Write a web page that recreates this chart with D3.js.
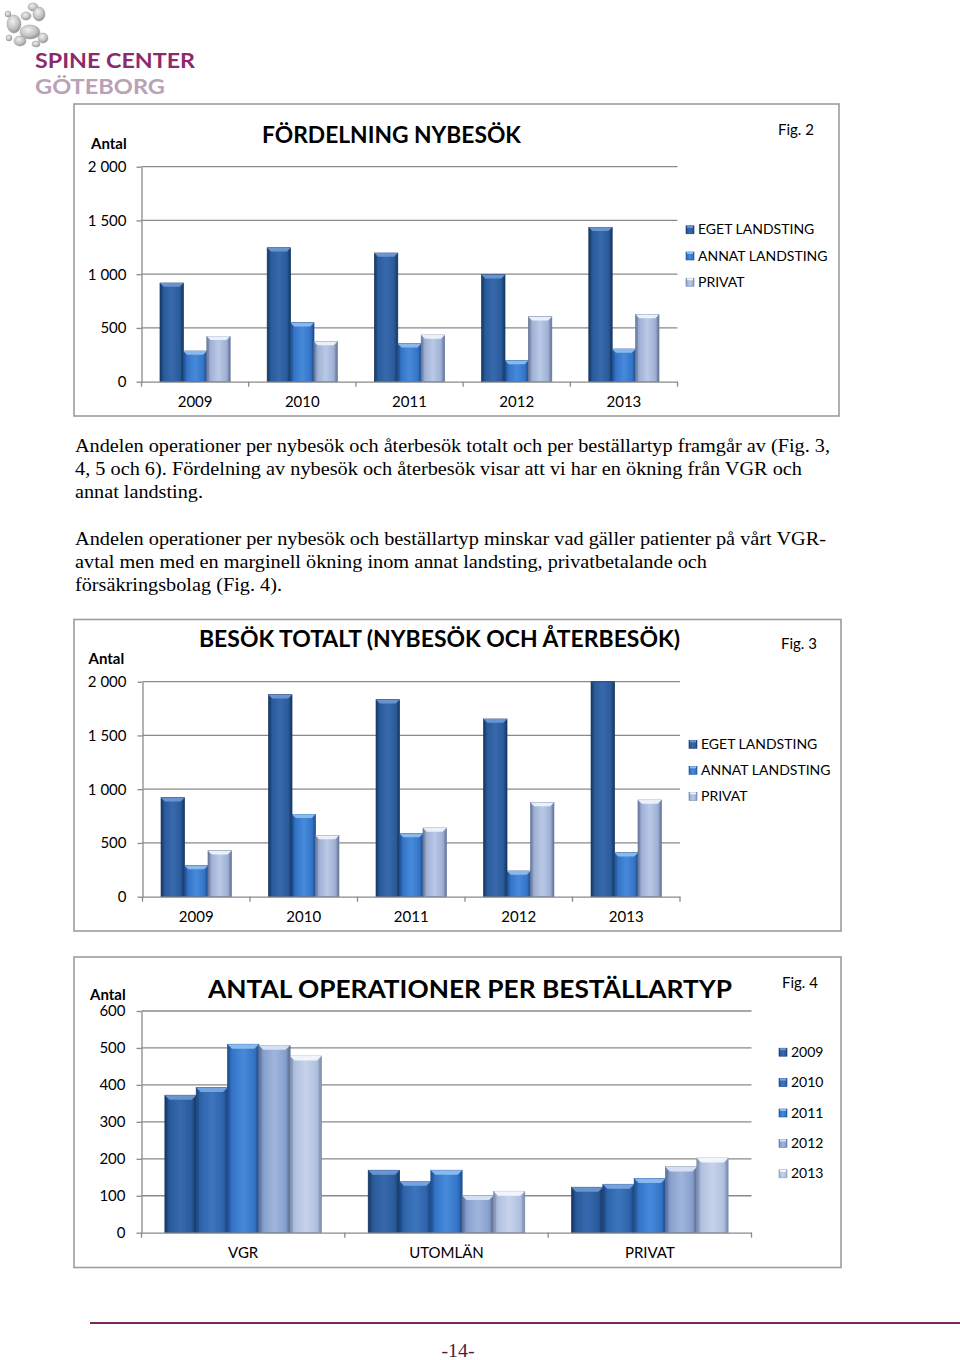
<!DOCTYPE html>
<html>
<head>
<meta charset="utf-8">
<script src="https://cdn.jsdelivr.net/npm/d3@7"></script>
<style>
  html, body { margin: 0; padding: 0; background: #ffffff; }
  svg { display: block; }
</style>
</head>
<body>
<script>
// ---------------- DATA ----------------
const years = ["2009", "2010", "2011", "2012", "2013"];
const visitSeries = ["EGET LANDSTING", "ANNAT LANDSTING", "PRIVAT"];
const visitTicks = [0, 500, 1000, 1500, 2000];

// Fig. 2 – Fördelning nybesök
const nyEget   = [918, 1246, 1197, 995, 1436];
const nyAnnat  = [285, 549, 353, 198, 304];
const nyPrivat = [422, 375, 434, 605, 626];

// Fig. 3 – Besök totalt (nybesök och återbesök)
const totEget   = [921, 1879, 1833, 1653, 2050];
const totAnnat  = [291, 766, 589, 239, 409];
const totPrivat = [428, 570, 639, 877, 899];

// Fig. 4 – Antal operationer per beställartyp
const opCategories = ["VGR", "UTOMLÄN", "PRIVAT"];
const opTicks = [0, 100, 200, 300, 400, 500, 600];
const op2009 = [372, 169, 123];
const op2010 = [393, 139, 131];
const op2011 = [510, 169, 147];
const op2012 = [507, 101, 178];
const op2013 = [478, 112, 202];

const paragraph1 = [
  "Andelen operationer per nybesök och återbesök totalt och per beställartyp framgår av (Fig. 3,",
  "4, 5 och 6). Fördelning av nybesök och återbesök visar att vi har en ökning från VGR och",
  "annat landsting."
];
const paragraph2 = [
  "Andelen operationer per nybesök och beställartyp minskar vad gäller patienter på vårt VGR-",
  "avtal men med en marginell ökning inom annat landsting, privatbetalande och",
  "försäkringsbolag (Fig. 4)."
];

// ---------------- STYLE ----------------
const FONT = "Lato, 'Open Sans', sans-serif";
const SERIF = "'Liberation Serif', 'DejaVu Serif', serif";
const GRID = "#8a8a8a";

const palettes = {
  eget:   { edge: "#1c4478", base: "#2b5c9c", center: "#3769ad", bevel: "#6b98d4", stroke: "#183a68" },
  annat:  { edge: "#2760ab", base: "#3676c9", center: "#468ada", bevel: "#8dbdf0", stroke: "#1f5196" },
  privat: { edge: "#7c8fb6", base: "#a0b2d6", center: "#bac9e6", bevel: "#eef3fb", stroke: "#6f81a6" },
  y2010:  { edge: "#22549a", base: "#3066ac", center: "#3c75bf", bevel: "#78a6e2", stroke: "#1d4a88" },
  y2012:  { edge: "#6c83b2", base: "#8aa2cf", center: "#a0b5dc", bevel: "#d8e3f5", stroke: "#61779f" },
  y2013:  { edge: "#95a7cc", base: "#b3c2e1", center: "#c7d3ea", bevel: "#f4f7fc", stroke: "#8797b8" }
};

const fmt = d3.formatLocale({ decimal: ",", thousands: " ", grouping: [3], currency: ["", ""] }).format(",d");

const svg = d3.select("body").append("svg").attr("width", 960).attr("height", 1360);
const defs = svg.append("defs");

Object.entries(palettes).forEach(([key, p]) => {
  const lg = defs.append("linearGradient").attr("id", "g-" + key)
    .attr("x1", "0").attr("x2", "1").attr("y1", "0").attr("y2", "0");
  [[0, p.edge], [0.18, p.base], [0.5, p.center], [0.82, p.base], [1, p.edge]]
    .forEach(([o, c]) => lg.append("stop").attr("offset", o).attr("stop-color", c));
});

// ---------------- LOGO ----------------
const blob = defs.append("radialGradient").attr("id", "blob").attr("cx", "0.4").attr("cy", "0.35").attr("r", "0.7");
blob.append("stop").attr("offset", 0).attr("stop-color", "#f0f0f0");
blob.append("stop").attr("offset", 0.6).attr("stop-color", "#c2c2c2");
blob.append("stop").attr("offset", 1).attr("stop-color", "#8a8a8a");
const logo = svg.append("g");
[[33, 7, 5, 4], [39, 14, 6, 7], [26, 16, 5, 4], [14, 24, 7, 9], [8, 14, 3, 3], [30, 32, 10, 7],
 [43, 38, 5, 5], [20, 41, 6, 5], [9, 38, 3, 3], [36, 44, 4, 3]].forEach(([cx, cy, rx, ry]) => {
  logo.append("ellipse").attr("cx", cx).attr("cy", cy).attr("rx", rx).attr("ry", ry)
    .attr("fill", "url(#blob)").attr("stroke", "#9a9a9a").attr("stroke-width", 0.5);
});
logo.append("text").attr("x", 35).attr("y", 67.5).attr("font-family", FONT)
  .attr("font-weight", 700).attr("font-size", 21).attr("fill", "#8b2b6d")
  .attr("textLength", 160).attr("lengthAdjust", "spacingAndGlyphs").text("SPINE CENTER");
logo.append("text").attr("x", 35).attr("y", 93.5).attr("font-family", FONT)
  .attr("font-weight", 700).attr("font-size", 21).attr("fill", "#b9a1b6")
  .attr("textLength", 130).attr("lengthAdjust", "spacingAndGlyphs").text("GÖTEBORG");

// ---------------- CHART FUNCTION ----------------
function drawBar(g, x, w, yTop, yBottom, key, clipped) {
  const p = palettes[key];
  g.append("rect").attr("x", x).attr("y", yTop).attr("width", w).attr("height", Math.max(0, yBottom - yTop))
    .attr("fill", "url(#g-" + key + ")").attr("stroke", p.stroke).attr("stroke-width", 0.7);
  const b = Math.min(4.5, w * 0.16);
  if (!clipped) {
    g.append("polygon")
      .attr("points", [[x, yTop], [x + w, yTop], [x + w - b, yTop + b], [x + b, yTop + b]].map(d => d.join(",")).join(" "))
      .attr("fill", p.bevel).attr("opacity", 0.95);
  }
  g.append("polygon")
    .attr("points", [[x, yTop], [x + b * 0.6, yTop + b], [x + b * 0.6, yBottom], [x, yBottom]].map(d => d.join(",")).join(" "))
    .attr("fill", "#000").attr("opacity", 0.12);
  g.append("polygon")
    .attr("points", [[x + w, yTop], [x + w - b * 0.6, yTop + b], [x + w - b * 0.6, yBottom], [x + w, yBottom]].map(d => d.join(",")).join(" "))
    .attr("fill", "#000").attr("opacity", 0.12);
}

function drawChart(cfg) {
  const g = svg.append("g");
  g.append("rect").attr("x", cfg.box[0]).attr("y", cfg.box[1]).attr("width", cfg.box[2]).attr("height", cfg.box[3])
    .attr("fill", "#fff").attr("stroke", "#9d9d9d").attr("stroke-width", 1.6);

  const y = d3.scaleLinear().domain([cfg.ticks[0], cfg.ticks[cfg.ticks.length - 1]])
    .range([cfg.plot.bottom, cfg.plot.top]).clamp(true);
  const x0 = d3.scaleBand().domain(cfg.categories).range([cfg.plot.left, cfg.plot.right]).padding(0);
  const groupW = x0.bandwidth() * cfg.groupFrac;
  const x1 = d3.scaleBand().domain(cfg.series.map(s => s.name)).range([0, groupW]).padding(0);

  // gridlines
  g.append("g").selectAll("line").data(cfg.ticks.slice(1)).join("line")
    .attr("x1", cfg.plot.left).attr("x2", cfg.plot.right)
    .attr("y1", d => y(d)).attr("y2", d => y(d))
    .attr("stroke", GRID).attr("stroke-width", 1.3);

  // bars
  const bars = g.append("g");
  cfg.series.forEach(s => {
    s.values.forEach((v, i) => {
      const cx = x0(cfg.categories[i]) + (x0.bandwidth() - groupW) / 2 + x1(s.name);
      drawBar(bars, cx, x1.bandwidth(), y(v), y(0), s.key, v > y.domain()[1]);
    });
  });

  // y axis
  const ya = g.append("g").attr("transform", `translate(${cfg.plot.left},0)`)
    .call(d3.axisLeft(y).tickValues(cfg.ticks).tickSize(5).tickSizeOuter(0).tickPadding(cfg.yPad).tickFormat(fmt));
  ya.select(".domain").attr("stroke", GRID).attr("stroke-width", 1.3);
  ya.selectAll(".tick line").attr("stroke", GRID).attr("stroke-width", 1.3);
  ya.selectAll("text").attr("font-family", FONT).attr("font-size", 15).attr("fill", "#000");

  // x axis
  const xa = g.append("g").attr("transform", `translate(0,${cfg.plot.bottom})`)
    .call(d3.axisBottom(x0).tickSize(0).tickSizeOuter(0).tickPadding(cfg.xPad));
  xa.select(".domain").attr("stroke", GRID).attr("stroke-width", 1.3);
  xa.selectAll("text").attr("font-family", FONT).attr("font-size", 15).attr("fill", "#000");
  const bounds = cfg.categories.map(c => x0(c)).concat([x0.range()[1]]);
  g.append("g").selectAll("line").data(bounds).join("line")
    .attr("x1", d => d).attr("x2", d => d)
    .attr("y1", cfg.plot.bottom).attr("y2", cfg.plot.bottom + 5)
    .attr("stroke", GRID).attr("stroke-width", 1.3);

  // titles
  g.append("text").attr("x", cfg.title.x).attr("y", cfg.title.y)
    .attr("font-family", FONT).attr("font-weight", 700).attr("font-size", cfg.title.size)
    .attr("textLength", cfg.title.len).attr("lengthAdjust", "spacingAndGlyphs").text(cfg.title.text);
  g.append("text").attr("x", cfg.antal[0]).attr("y", cfg.antal[1])
    .attr("font-family", FONT).attr("font-weight", 700).attr("font-size", 15).text("Antal");
  g.append("text").attr("x", cfg.fig[0]).attr("y", cfg.fig[1])
    .attr("font-family", FONT).attr("font-size", 15).text(cfg.fig[2]);

  // legend
  const lg = g.append("g");
  cfg.series.forEach((s, i) => {
    const by = cfg.legend.y0 + i * cfg.legend.dy;
    lg.append("rect").attr("x", cfg.legend.x).attr("y", by - 8.5).attr("width", 8).attr("height", 8)
      .attr("fill", "url(#g-" + s.key + ")").attr("stroke", palettes[s.key].stroke).attr("stroke-width", 0.6);
    lg.append("rect").attr("x", cfg.legend.x + 1).attr("y", by - 8.5).attr("width", 6).attr("height", 2)
      .attr("fill", palettes[s.key].bevel);
    lg.append("text").attr("x", cfg.legend.x + 12).attr("y", by)
      .attr("font-family", FONT).attr("font-size", 14).text(s.name);
  });
}

// ---------------- CHARTS ----------------
drawChart({
  box: [74, 104, 765, 312],
  plot: { left: 141.5, right: 677.5, top: 166.7, bottom: 381.7 },
  ticks: visitTicks, categories: years, groupFrac: 0.655, yPad: 10, xPad: 15,
  series: [
    { name: visitSeries[0], key: "eget", values: nyEget },
    { name: visitSeries[1], key: "annat", values: nyAnnat },
    { name: visitSeries[2], key: "privat", values: nyPrivat }
  ],
  title: { text: "FÖRDELNING NYBESÖK", x: 262, y: 142.5, size: 22, len: 259 },
  antal: [91, 149], fig: [778, 135, "Fig. 2"],
  legend: { x: 686, y0: 234.3, dy: 26.2 }
});

drawChart({
  box: [74, 619.5, 767, 311.5],
  plot: { left: 142.5, right: 680, top: 681.7, bottom: 896.7 },
  ticks: visitTicks, categories: years, groupFrac: 0.655, yPad: 11, xPad: 15,
  series: [
    { name: visitSeries[0], key: "eget", values: totEget },
    { name: visitSeries[1], key: "annat", values: totAnnat },
    { name: visitSeries[2], key: "privat", values: totPrivat }
  ],
  title: { text: "BESÖK TOTALT (NYBESÖK OCH ÅTERBESÖK)", x: 199, y: 647, size: 22, len: 481 },
  antal: [88.5, 664], fig: [781, 649, "Fig. 3"],
  legend: { x: 689, y0: 748.8, dy: 26 }
});

drawChart({
  box: [74, 957, 767, 310.5],
  plot: { left: 141.5, right: 751.5, top: 1011, bottom: 1232.7 },
  ticks: opTicks, categories: opCategories, groupFrac: 0.77, yPad: 11, xPad: 15,
  series: [
    { name: "2009", key: "eget", values: op2009 },
    { name: "2010", key: "y2010", values: op2010 },
    { name: "2011", key: "annat", values: op2011 },
    { name: "2012", key: "y2012", values: op2012 },
    { name: "2013", key: "y2013", values: op2013 }
  ],
  title: { text: "ANTAL OPERATIONER  PER BESTÄLLARTYP", x: 208, y: 998, size: 24, len: 524 },
  antal: [90, 1000], fig: [782, 988, "Fig. 4"],
  legend: { x: 779, y0: 1056.7, dy: 30.4 }
});

// ---------------- BODY TEXT ----------------
const textG = svg.append("g").attr("font-family", SERIF).attr("font-size", 18.5).attr("fill", "#000");
const lens1 = [755, 727, 128];
const lens2 = [751, 632, 207];
paragraph1.forEach((t, i) => {
  textG.append("text").attr("x", 75).attr("y", 451.7 + i * 22.9)
    .attr("textLength", lens1[i]).attr("lengthAdjust", "spacingAndGlyphs").text(t);
});
paragraph2.forEach((t, i) => {
  textG.append("text").attr("x", 75).attr("y", 545 + i * 22.9)
    .attr("textLength", lens2[i]).attr("lengthAdjust", "spacingAndGlyphs").text(t);
});

// ---------------- FOOTER ----------------
svg.append("line").attr("x1", 90).attr("x2", 960).attr("y1", 1323).attr("y2", 1323)
  .attr("stroke", "#7b2a60").attr("stroke-width", 2);
svg.append("text").attr("x", 458).attr("y", 1357).attr("text-anchor", "middle")
  .attr("font-family", SERIF).attr("font-size", 18).attr("fill", "#4d1a42")
  .attr("textLength", 33).attr("lengthAdjust", "spacingAndGlyphs").text("-14-");
</script>
</body>
</html>
